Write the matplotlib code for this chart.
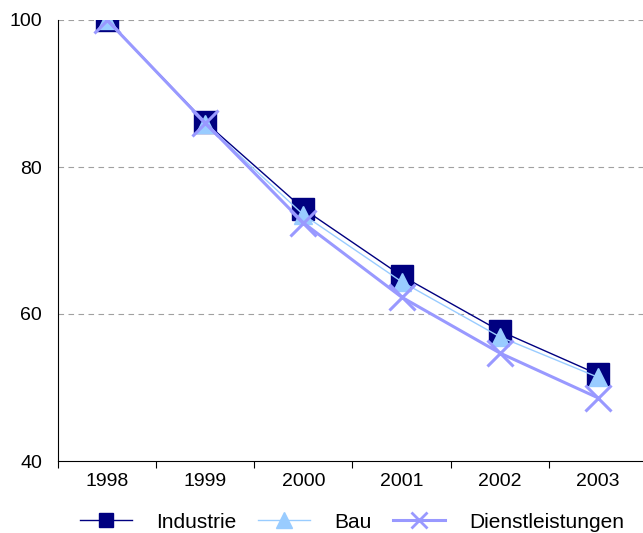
import matplotlib.pyplot as plt
from matplotlib.lines import Line2D

plt.rcParams['font.family'] = ['Liberation Sans', 'DejaVu Sans']

years = ['1998', '1999', '2000', '2001', '2002', '2003']
industrie = [100, 86.1, 74.3, 65.2, 57.7, 51.8]
bau = [100, 85.9, 73.5, 64.4, 56.9, 51.4]
dienstleistungen = [100, 86.0, 72.4, 62.3, 54.7, 48.6]
yticks = [40, 60, 80, 100]

fig = plt.figure(figsize=(6.43, 5.33), dpi=100)
ax = fig.add_axes([58 / 643, 1 - 461 / 533, 589 / 643, 441 / 533])

x = list(range(len(years)))

for y in yticks[1:]:
    ax.axhline(y, color='#a0a0a0', linewidth=0.8, dashes=(5, 4), zorder=0)

ax.plot(x, industrie, color='#000080', linewidth=1, marker='s', markersize=16,
        markerfacecolor='#000080', markeredgecolor='#000080', label='Industrie', zorder=3)
ax.plot(x, bau, color='#99ccff', linewidth=1, marker='^', markersize=13,
        markerfacecolor='#99ccff', markeredgecolor='#99ccff', label='Bau', zorder=4)
ax.plot(x, dienstleistungen, color='#9999ff', linewidth=2.2, marker='x', markersize=19,
        markeredgewidth=2.2, label='Dienstleistungen', zorder=5)

ax.set_xlim(-0.5, len(years) - 0.5)
ax.set_ylim(40, 100)
ax.set_yticks(yticks)
ax.set_yticklabels([str(v) for v in yticks], fontsize=14)
ax.set_xticks(x)
ax.set_xticklabels(years, fontsize=14)
ax.set_xticks([i + 0.5 for i in range(-1, len(years))], minor=True)
ax.tick_params(axis='x', which='major', length=0, pad=9)
ax.tick_params(axis='x', which='minor', length=5, width=0.8, direction='out')
ax.tick_params(axis='y', length=0, pad=11.5)

for side in ['top', 'right']:
    ax.spines[side].set_visible(False)
ax.spines['bottom'].set_linewidth(0.8)
ax.spines['left'].set_linewidth(0.8)

handles = [
    Line2D([], [], color='#000080', linewidth=1, marker='s', markersize=10.5),
    Line2D([], [], color='#99ccff', linewidth=1, marker='^', markersize=11),
    Line2D([], [], color='#9999ff', linewidth=2.2, marker='x', markersize=11, markeredgewidth=2),
]
fig.legend(handles, ['Industrie', 'Bau', 'Dienstleistungen'], loc='center',
           bbox_to_anchor=(352 / 643, 1 - 522 / 533), ncol=3, frameon=False, fontsize=15,
           handlelength=2.5, handletextpad=1.15, columnspacing=1.05,
           borderpad=0, borderaxespad=0)

fig.savefig('out.png', dpi=100)
